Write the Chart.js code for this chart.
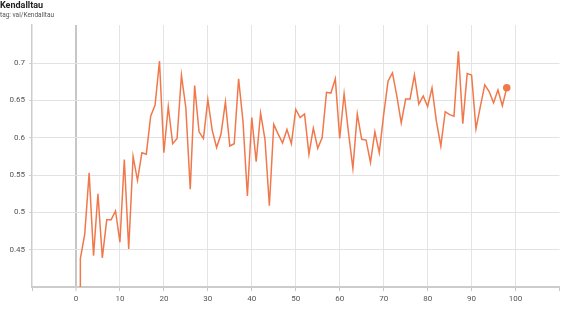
<!DOCTYPE html>
<html>
<head>
<meta charset="utf-8">
<script src="https://cdn.jsdelivr.net/npm/chart.js@4/dist/chart.umd.min.js"></script>
<style>
  body { margin: 0; background: #fff; }
  #wrap { position: relative; width: 564px; height: 336px; }
  #title { position: absolute; left: 0; top: 0; font: bold 9px Roboto, sans-serif; line-height: 10px; color: #222; }
  #subtitle { position: absolute; left: 0; top: 11px; font: 6.5px Roboto, sans-serif; line-height: 8px; color: #555; }
  canvas { position: absolute; left: 0; top: 0; }
</style>
</head>
<body>
<div id="wrap">
  <canvas id="chart" width="564" height="336"></canvas>
  <div id="title">Kendalltau</div>
  <div id="subtitle">tag: val/Kendalltau</div>
</div>
<script>
// dati (step, valore)
var steps = [1, 1, 2, 3, 4, 5, 6, 7, 8, 9, 10,
  11, 12, 13, 14, 15, 16, 17, 18, 19, 20,
  21, 22, 23, 24, 25, 26, 27, 28, 29, 30,
  31, 32, 33, 34, 35, 36, 37, 38, 39, 40,
  41, 42, 43, 44, 45, 46, 47, 48, 49, 50,
  51, 52, 53, 54, 55, 56, 57, 58, 59, 60,
  61, 62, 63, 64, 65, 66, 67, 68, 69, 70,
  71, 72, 73, 74, 75, 76, 77, 78, 79, 80,
  81, 82, 83, 84, 85, 86, 87, 88, 89, 90,
  91, 92, 93, 94, 95, 96, 97, 98];
var values = [0.35,
  0.438, 0.471, 0.553, 0.442, 0.525, 0.439, 0.490, 0.490, 0.502, 0.460,
  0.571, 0.451, 0.575, 0.543, 0.580, 0.578, 0.629, 0.644, 0.703, 0.580,
  0.642, 0.592, 0.599, 0.684, 0.640, 0.531, 0.670, 0.608, 0.599, 0.651,
  0.610, 0.587, 0.605, 0.648, 0.589, 0.592, 0.679, 0.622, 0.522, 0.627,
  0.568, 0.633, 0.598, 0.509, 0.618, 0.605, 0.593, 0.611, 0.592, 0.638,
  0.627, 0.632, 0.578, 0.613, 0.586, 0.600, 0.661, 0.660, 0.679, 0.599,
  0.659, 0.607, 0.559, 0.632, 0.598, 0.597, 0.567, 0.608, 0.580, 0.631,
  0.676, 0.687, 0.656, 0.620, 0.652, 0.652, 0.684, 0.645, 0.656, 0.642,
  0.667, 0.622, 0.589, 0.635, 0.631, 0.629, 0.716, 0.619, 0.686, 0.684,
  0.612, 0.642, 0.671, 0.662, 0.647, 0.664, 0.643, 0.667];
var yTicks = [0.45, 0.5, 0.55, 0.6, 0.65, 0.7];
var xTicks = [0, 10, 20, 30, 40, 50, 60, 70, 80, 90, 100];

var points = [];
for (var i = 0; i < steps.length; i++) {
  points.push({ x: steps[i], y: values[i] });
}

var tickFont = { family: 'Roboto, sans-serif', size: 8 };
var lineColor = '#f0784b';

var ctx = document.getElementById('chart').getContext('2d');
var chart = new Chart(ctx, {
  type: 'line',
  data: {
    datasets: [{
      data: points,
      borderColor: lineColor,
      backgroundColor: lineColor,
      borderWidth: 1.5,
      tension: 0,
      fill: false,
      pointRadius: function(c) { return c.dataIndex === points.length - 1 ? 3 : 0; },
      pointHoverRadius: 0
    }]
  },
  options: {
    responsive: false,
    animation: false,
    layout: { padding: { top: 25, right: 1, left: 0, bottom: 0 } },
    plugins: { legend: { display: false }, tooltip: { enabled: false } },
    scales: {
      x: {
        type: 'linear',
        min: -10,
        max: 110,
        afterBuildTicks: function(s) {
          var t = [-10].concat(xTicks).concat([110]);
          s.ticks = t.map(function(v) { return { value: v }; });
        },
        afterFit: function(s) { s.height = 49; },
        ticks: {
          font: tickFont,
          color: '#555',
          padding: 3,
          maxRotation: 0,
          autoSkip: false,
          callback: function(v) { return xTicks.indexOf(v) >= 0 ? String(v) : ''; }
        },
        grid: {
          color: function(c) {
            var v = c.tick ? c.tick.value : null;
            if (v === 0) return '#c6c6c6';
            if (v < 0 || v > 100) return 'rgba(0,0,0,0)';
            return '#e4e4e4';
          },
          lineWidth: function(c) { return c.tick && c.tick.value === 0 ? 2 : 1; },
          tickColor: '#c8c8c8',
          tickWidth: 1,
          tickLength: 4
        },
        border: { color: '#cccccc', width: 2 }
      },
      y: {
        type: 'linear',
        min: 0.4,
        max: 0.7512,
        afterBuildTicks: function(s) {
          s.ticks = yTicks.map(function(v) { return { value: v }; });
        },
        afterFit: function(s) { s.width = 32; },
        ticks: {
          font: tickFont,
          color: '#555',
          padding: 4,
          callback: function(v) { return String(v); }
        },
        grid: {
          color: '#e2e2e2',
          tickColor: '#d0d0d0',
          tickLength: 3
        },
        border: { color: '#cccccc', width: 1.5 }
      }
    }
  }
});
</script>
</body>
</html>
